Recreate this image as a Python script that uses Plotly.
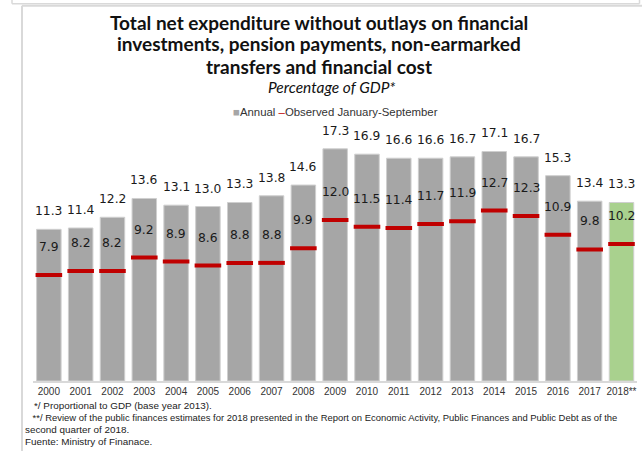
import plotly.graph_objects as go

# Years and values (percentage of GDP)
years = ["2000", "2001", "2002", "2003", "2004", "2005", "2006", "2007", "2008", "2009",
         "2010", "2011", "2012", "2013", "2014", "2015", "2016", "2017", "2018**"]
annual = [11.3, 11.4, 12.2, 13.6, 13.1, 13.0, 13.3, 13.8, 14.6, 17.3,
          16.9, 16.6, 16.6, 16.7, 17.1, 16.7, 15.3, 13.4, 13.3]
jan_sep = [7.9, 8.2, 8.2, 9.2, 8.9, 8.6, 8.8, 8.8, 9.9, 12.0,
           11.5, 11.4, 11.7, 11.9, 12.7, 12.3, 10.9, 9.8, 10.2]

title_lines = [
    "Total net expenditure without outlays on financial",
    "investments, pension payments, non-earmarked",
    "transfers and financial cost",
]
subtitle = "Percentage of GDP*"
footnotes = [
    "*/ Proportional to GDP (base year 2013).",
    " **/ Review of the public finances estimates for 2018 presented in the Report on Economic Activity, Public Finances and Public Debt as of the",
    "second quarter of 2018.",
    "Fuente: Ministry of Finanace.",
]

W, H = 642, 451
GRAY = "#a6a6a6"
GREEN = "#a9d18e"
RED = "#c00000"
FRAME = "#d9d9d9"


def px(x):
    return x / W


def py(y):
    return 1 - y / H


bar_colors = [GRAY] * (len(years) - 1) + [GREEN]

fig = go.Figure()
fig.add_trace(go.Bar(
    x=years, y=annual, marker=dict(color=bar_colors, line=dict(color="#cfcfcf", width=1)),
    name="Annual", hoverinfo="x+y",
))
fig.add_trace(go.Scatter(
    x=years, y=jan_sep, mode="markers", name="Observed January-September",
    marker=dict(symbol="line-ew", size=19, line=dict(color=RED, width=4)),
))

ann = []
label_font = dict(family="DejaVu Sans", size=12.3, color="#1a1a1a")
# value labels (category axis positions given by index)
for i, (a, o) in enumerate(zip(annual, jan_sep)):
    ann.append(dict(x=i, y=a, xref="x", yref="y", text=f"{a:.1f}", showarrow=False,
                    yshift=18, yanchor="middle", font=label_font))
    ann.append(dict(x=i, y=o, xref="x", yref="y", text=f"{o:.1f}", showarrow=False,
                    yshift=28, yanchor="middle", font=label_font))

# title block
for i, line in enumerate(title_lines):
    ann.append(dict(x=px(319), y=py(22 + 22 * i), xref="paper", yref="paper",
                    text=f"<b>{line}</b>", showarrow=False, xanchor="center", yanchor="middle",
                    font=dict(family="Lato", size=19, color="#111111")))
ann.append(dict(x=px(332), y=py(87), xref="paper", yref="paper",
                text=f"<i>{subtitle}</i>", showarrow=False, xanchor="center", yanchor="middle",
                font=dict(family="Lato", size=15.5, color="#111111")))

# legend line
ann.append(dict(x=px(336), y=py(112), xref="paper", yref="paper",
                text=(f"<span style='color:{GRAY}'>■</span>Annual "
                      f"<span style='color:{RED}'>–</span>Observed January-September"),
                showarrow=False, xanchor="center", yanchor="middle",
                font=dict(family="Liberation Sans", size=11.4, color="#333333")))

# footnotes
foot_pos = [(32, 405, 9.9), (28, 417, 9.45), (23, 429, 9.9), (23, 441, 9.9)]
for (fx, fy, fs), t in zip(foot_pos, footnotes):
    ann.append(dict(x=px(fx), y=py(fy), xref="paper", yref="paper", text=t,
                    showarrow=False, xanchor="left", yanchor="middle",
                    font=dict(family="Liberation Sans", size=fs, color="#222222")))

# frame lines around the panel
shapes = [
    dict(type="line", xref="paper", yref="paper", x0=px(12), x1=px(639.5), y0=py(3.7), y1=py(3.7),
         line=dict(color=FRAME, width=1.5)),
    dict(type="line", xref="paper", yref="paper", x0=px(12), x1=px(12), y0=py(0), y1=py(3.7),
         line=dict(color=FRAME, width=1.5)),
    dict(type="line", xref="paper", yref="paper", x0=px(639.5), x1=px(639.5), y0=py(0), y1=py(3.7),
         line=dict(color=FRAME, width=1.5)),
    dict(type="line", xref="paper", yref="paper", x0=px(22), x1=px(642), y0=py(5.8), y1=py(5.8),
         line=dict(color=FRAME, width=2)),
    dict(type="line", xref="paper", yref="paper", x0=px(22), x1=px(22), y0=py(5.8), y1=py(451),
         line=dict(color=FRAME, width=2)),
]

fig.update_layout(
    width=W, height=H,
    margin=dict(l=0, r=0, t=0, b=0),
    paper_bgcolor="white", plot_bgcolor="white",
    showlegend=False,
    bargap=0.23,
    annotations=ann,
    shapes=shapes,
    xaxis=dict(domain=[px(32.95), px(637.4)], range=[-0.5, 18.5], type="category",
               showline=True, linecolor=FRAME, linewidth=1.5, ticks="",
               tickfont=dict(family="Liberation Sans", size=10, color="#333333"),
               showgrid=False, zeroline=False, fixedrange=True),
    yaxis=dict(domain=[py(381), py(126)], range=[0, 19], visible=False,
               showgrid=False, zeroline=False, fixedrange=True),
)

fig.write_html("out.html")
